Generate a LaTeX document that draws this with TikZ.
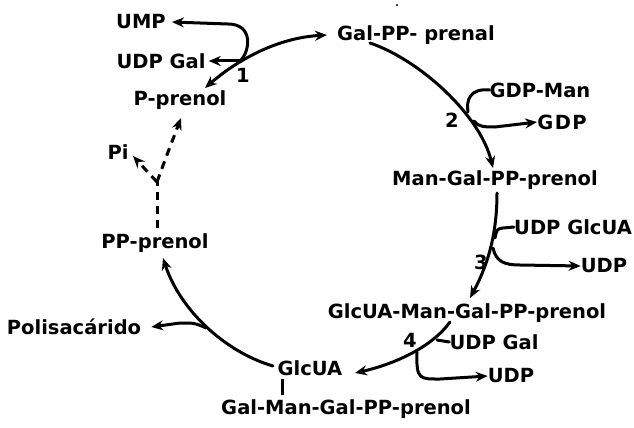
\documentclass[tikz,border=0pt]{standalone}
\usepackage{fontspec}
\setmainfont{DejaVu Sans}
\usetikzlibrary{arrows.meta}
\begin{document}
\begin{tikzpicture}[x=1pt,y=-1pt,
  lbl/.style={inner sep=0pt,font=\bfseries\fontsize{19.5}{22}\selectfont},
  num/.style={inner sep=0pt,font=\bfseries\fontsize{19.5}{22}\selectfont},
  flow/.style={line width=3pt,line cap=round},
  tip/.style={-{Stealth[length=12pt,width=10pt]}},
  dtip/.style={{Stealth[length=12pt,width=10pt]}-{Stealth[length=12pt,width=10pt]}},
  dashline/.style={line width=3pt,dash pattern=on 8pt off 6pt}]
\useasboundingbox (0,0) rectangle (634,428);
% metabolites
\node[lbl] (ump) at (141,22) {UMP};
\node[lbl] (udpgalA) at (161,61) {UDP Gal};
\node[num] (one) at (243,75) {1};
\node[lbl] (pprenol) at (180,100) {P-prenol};
\node[lbl] (pi) at (118,152) {Pi};
\node[lbl] (ppprenol) at (155,243) {PP-prenol};
\node[lbl] (polis) at (74,327) {Polisacárido};
\node[lbl] (glcua) at (310,368) {GlcUA};
\node[lbl] (galman) at (346,409) {Gal-Man-Gal-PP-prenol};
\node[lbl] (galpp) at (416,35) {Gal-PP- prenal};
\node[lbl] (gdpman) at (540,90) {GDP-Man};
\node[num] (two) at (452,120) {2};
\node[lbl] (gdp) at (562,122) {G\kern1.5pt D\kern1.5pt P};
\node[lbl] (mangal) at (495,180) {Man-Gal-PP-prenol};
\node[lbl] (udpglcua) at (573,227) {UDP GlcUA};
\node[num] (three) at (481,262) {3};
\node[lbl] (udpC) at (604,266) {UDP};
\node[lbl] (glcuaman) at (467,313) {GlcUA-Man-Gal-PP-prenol};
\node[num] (four) at (410,340) {4};
\node[lbl] (udpgalD) at (494,342) {UDP Gal};
\node[lbl] (udpD) at (511,376) {UDP};
\fill (397,5) circle (1.2pt);
% step 1
\draw[flow,dtip] (205,88) .. controls (235,62) and (275,38) .. ([xshift=-10pt]galpp.west);
\coordinate (s1) at (240,61);
\draw[flow,tip] (s1) .. controls (250,52) and (254,24) .. (228,24) -- ([xshift=6pt]ump.east);
\draw[flow,tip] (s1) -- ([xshift=3pt]udpgalA.east);
% step 2
\draw[flow,tip] (370,43) .. controls (420,60) and (480,115) .. (493,168);
\coordinate (s2in) at (468,112);
\coordinate (s2out) at (474,121);
\draw[flow] (gdpman.west) .. controls (470,88) and (466,100) .. (s2in);
\draw[flow,tip] (s2out) .. controls (478,127) and (485,127) .. (495,127) -- (gdp.west);
% step 3
\draw[flow,tip] (497,193) .. controls (497,240) and (485,270) .. (470,298);
\coordinate (s3in) at (495,238);
\coordinate (s3out) at (493,248);
\draw[flow] (udpglcua.west) -- (503,228) .. controls (497,229) .. (s3in);
\draw[flow,tip] (s3out) .. controls (496,262) and (505,265) .. (520,265) -- (udpC.west);
% step 4
\draw[flow,tip] (450,322) .. controls (432,347) and (395,364) .. (355,373);
\coordinate (s4in) at (437,340);
\coordinate (s4out) at (417,352);
\draw[flow] (udpgalD.west) -- (s4in);
\draw[flow,tip] (s4out) .. controls (416,380) and (420,379) .. (440,379) -- (udpD.west);
% release of the polymer
\draw[flow,tip] (273,366) .. controls (225,352) and (180,310) .. (163,258);
\coordinate (s5) at (206,328);
\draw[flow,tip] (s5) .. controls (195,323) .. (180,323) -- ([xshift=10pt]polis.east);
\draw[line width=3pt] (282,379) -- (282,395);
% dephosphorylation
\coordinate (fork) at (157,182);
\draw[dashline] (157,228) -- (fork);
\draw[dashline,tip] (fork) .. controls (165,160) .. (181,118);
\draw[dashline,tip] (fork) -- (133,156);
\end{tikzpicture}
\end{document}
